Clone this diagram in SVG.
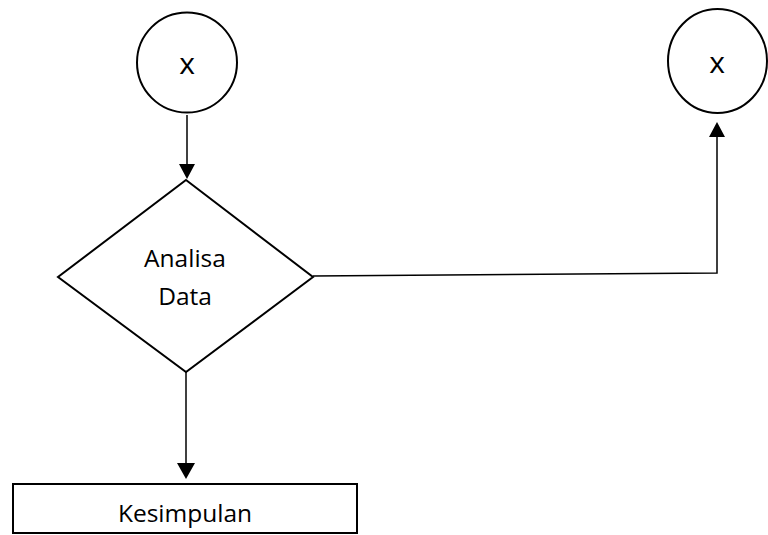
<svg xmlns="http://www.w3.org/2000/svg" width="768" height="535" viewBox="0 0 768 535">
<style>
.shape{fill:#fff;stroke:#000;stroke-width:2}
.lbl{font-family:"Open Sans","Liberation Sans",sans-serif;font-size:24.5px;fill:#000;text-anchor:middle}
.big{font-size:30px}
.conn{fill:none;stroke:#000;stroke-width:1.5}
</style>
<g id="connectors">
<line class="conn" x1="187" y1="115" x2="187" y2="165"/>
<path d="M179,164 L195,164 L187,179 Z" fill="#000"/>
<line class="conn" x1="186" y1="372" x2="186" y2="464"/>
<path d="M177,463 L195,463 L186,479 Z" fill="#000"/>
<polyline class="conn" points="313,276 717,273 717,136"/>
<path d="M709,137 L725,137 L717,122 Z" fill="#000"/>
</g>
<g id="start1">
<circle class="shape" cx="187" cy="62.5" r="50"/>
<text class="lbl big" x="187" y="74">x</text>
</g>
<g id="start2">
<ellipse class="shape" cx="717.5" cy="61" rx="49.5" ry="52"/>
<text class="lbl big" x="717" y="73">x</text>
</g>
<g id="decision">
<polygon class="shape" points="186,180 313,277 186,372 58,277"/>
<text class="lbl" x="185" y="267">Analisa</text>
<text class="lbl" x="185" y="305">Data</text>
</g>
<g id="kesimpulan">
<rect class="shape" x="13" y="484" width="344" height="49"/>
<text class="lbl" x="185" y="522">Kesimpulan</text>
</g>
</svg>
